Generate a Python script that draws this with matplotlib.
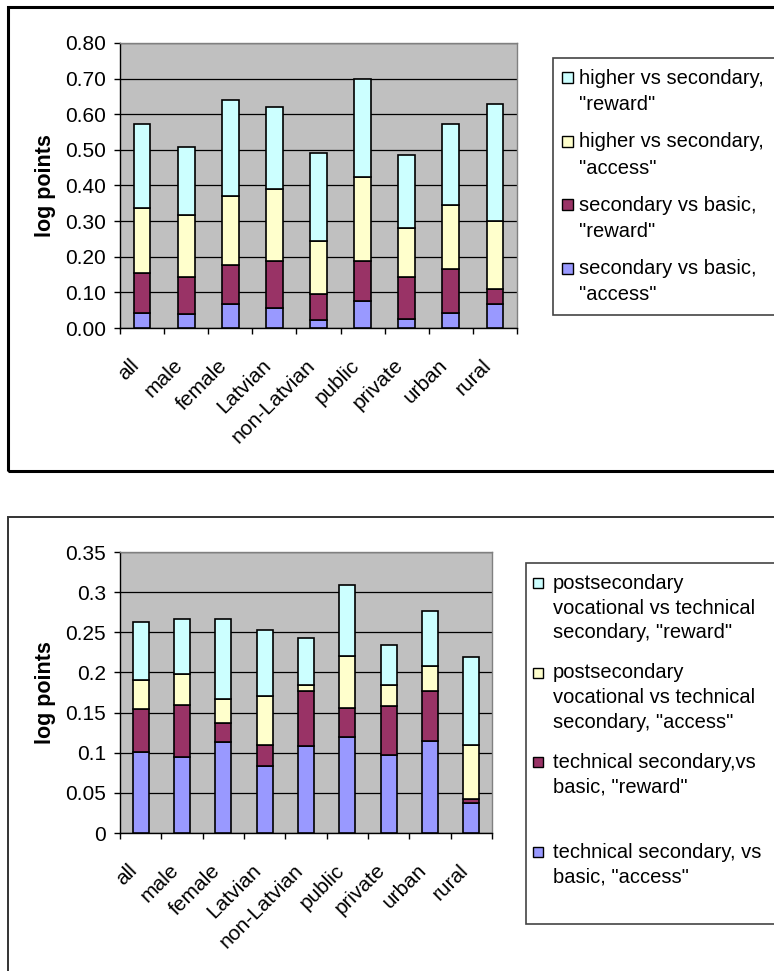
import numpy as np
import matplotlib
matplotlib.use('Agg')
import matplotlib.pyplot as plt
from matplotlib.patches import Rectangle
from matplotlib.transforms import ScaledTranslation

plt.rcParams['font.family'] = ['Liberation Sans', 'DejaVu Sans']

W, H = 774, 971

categories = ['all', 'male', 'female', 'Latvian', 'non-Latvian',
              'public', 'private', 'urban', 'rural']

# top chart: higher / secondary / basic education
sec_basic_access = [0.042, 0.038, 0.067, 0.056, 0.022, 0.075, 0.026, 0.042, 0.067]
sec_basic_reward = [0.111, 0.106, 0.109, 0.132, 0.073, 0.113, 0.118, 0.125, 0.042]
high_sec_access = [0.183, 0.174, 0.194, 0.201, 0.150, 0.236, 0.138, 0.178, 0.192]
high_sec_reward = [0.237, 0.189, 0.270, 0.232, 0.246, 0.275, 0.204, 0.228, 0.329]
top_labels = ['higher vs secondary,\n"reward"',
              'higher vs secondary,\n"access"',
              'secondary vs basic,\n"reward"',
              'secondary vs basic,\n"access"']
top_yticks = [0.0, 0.1, 0.2, 0.3, 0.4, 0.5, 0.6, 0.7, 0.8]
top_yticklabels = ['0.00', '0.10', '0.20', '0.30', '0.40', '0.50', '0.60', '0.70', '0.80']

# bottom chart: technical secondary / postsecondary vocational
tech_basic_access = [0.101, 0.095, 0.113, 0.083, 0.108, 0.120, 0.097, 0.114, 0.037]
tech_basic_reward = [0.053, 0.065, 0.024, 0.027, 0.069, 0.036, 0.061, 0.063, 0.005]
post_tech_access = [0.037, 0.038, 0.030, 0.061, 0.007, 0.064, 0.026, 0.031, 0.068]
post_tech_reward = [0.072, 0.068, 0.099, 0.082, 0.059, 0.089, 0.050, 0.068, 0.109]
bot_labels = ['postsecondary\nvocational vs technical\nsecondary, "reward"',
              'postsecondary\nvocational vs technical\nsecondary, "access"',
              'technical secondary,vs\nbasic, "reward"',
              'technical secondary, vs\nbasic, "access"']
bot_yticks = [0.0, 0.05, 0.1, 0.15, 0.2, 0.25, 0.3, 0.35]
bot_yticklabels = ['0', '0.05', '0.1', '0.15', '0.2', '0.25', '0.3', '0.35']

# stacking order bottom -> top, legend order is reversed
colors = ['#9999FF', '#993366', '#FFFFCC', '#CCFFFF']

fig = plt.figure(figsize=(W / 100, H / 100), dpi=100)


def fx(px):
    return px / W


def fy(py):
    return 1 - py / H


def frame(x0, y0, x1, y1, lw, color):
    fig.patches.append(Rectangle((fx(x0), fy(y1)), fx(x1) - fx(x0), fy(y0) - fy(y1),
                                 transform=fig.transFigure, fill=False,
                                 lw=lw, edgecolor=color, clip_on=False))


def draw_chart(rect, series, yticks, yticklabels):
    x0, y0, x1, y1 = rect
    ax = fig.add_axes([fx(x0), fy(y1), fx(x1) - fx(x0), fy(y0) - fy(y1)])
    ax.set_facecolor('#C0C0C0')
    pos = np.arange(len(categories)) + 0.5
    bottom = np.zeros(len(categories))
    for vals, c in zip(series, colors):
        ax.bar(pos, vals, 0.38, bottom=bottom, color=c, edgecolor='black',
               linewidth=1.2, zorder=3)
        bottom += np.array(vals)
    ax.set_xlim(0, len(categories))
    ax.set_ylim(yticks[0], yticks[-1])
    ax.set_yticks(yticks)
    ax.set_yticklabels(yticklabels)
    ax.yaxis.grid(True, color='black', lw=0.9)
    ax.set_axisbelow(True)
    ax.set_xticks(np.arange(len(categories) + 1))
    ax.set_xticklabels([])
    ax.set_xticks(pos, minor=True)
    ax.set_xticklabels(categories, minor=True, rotation=45, ha='right',
                       rotation_mode='anchor', fontsize=15)
    ax.tick_params(axis='x', which='minor', length=0, pad=20)
    ax.tick_params(axis='x', which='major', length=4, width=1, direction='out')
    ax.tick_params(axis='y', length=4, width=1, pad=6, labelsize=15)
    # nudge rotated labels left (after tick_params, which resets transforms)
    off = ScaledTranslation(-13 / 100, 0, fig.dpi_scale_trans)
    for lab in ax.get_xticklabels(minor=True):
        lab.set_transform(lab.get_transform() + off)
    for s in ['left', 'bottom']:
        ax.spines[s].set_color('black')
        ax.spines[s].set_linewidth(1)
    for s in ['top', 'right']:
        ax.spines[s].set_color('#808080')
        ax.spines[s].set_linewidth(1)
    ax.set_ylabel('log points', fontsize=15.5, fontweight='bold')
    ax.yaxis.set_label_coords((46 - x0) / (x1 - x0), 0.5)
    ax.yaxis.label.set_va('center')
    return ax


def draw_legend(box, labels, y_first, step, line_h, sq_x, sq, text_x):
    bx0, by0, by1 = box
    fig.patches.append(Rectangle((fx(bx0), fy(by1)), fx(800) - fx(bx0), fy(by0) - fy(by1),
                                 transform=fig.transFigure, facecolor='white',
                                 edgecolor='#444444', lw=1.2, clip_on=False))
    for i, lab in enumerate(labels):
        yc = y_first + i * step
        fig.patches.append(Rectangle((fx(sq_x), fy(yc + sq / 2)), sq / W, sq / H,
                                     transform=fig.transFigure,
                                     facecolor=colors[::-1][i], edgecolor='black', lw=1))
        for j, line in enumerate(lab.split('\n')):
            fig.text(fx(text_x), fy(yc + j * line_h), line, fontsize=14.5,
                     ha='left', va='center')


# outer chart borders (the image is cropped on the right)
frame(8, 7, 820, 471, 2.2, 'black')
frame(8, 517, 820, 1000, 1.4, '#333333')

draw_chart((120, 43, 517, 328),
           [sec_basic_access, sec_basic_reward, high_sec_access, high_sec_reward],
           top_yticks, top_yticklabels)
draw_chart((120, 552, 492, 833),
           [tech_basic_access, tech_basic_reward, post_tech_access, post_tech_reward],
           bot_yticks, bot_yticklabels)

draw_legend((553, 58, 315), top_labels, 78, 63.5, 26.5, 562, 11, 579)
draw_legend((526, 563, 924), bot_labels, 583, 89.7, 25, 533, 10, 553)

fig.savefig('out.png', dpi=100)
